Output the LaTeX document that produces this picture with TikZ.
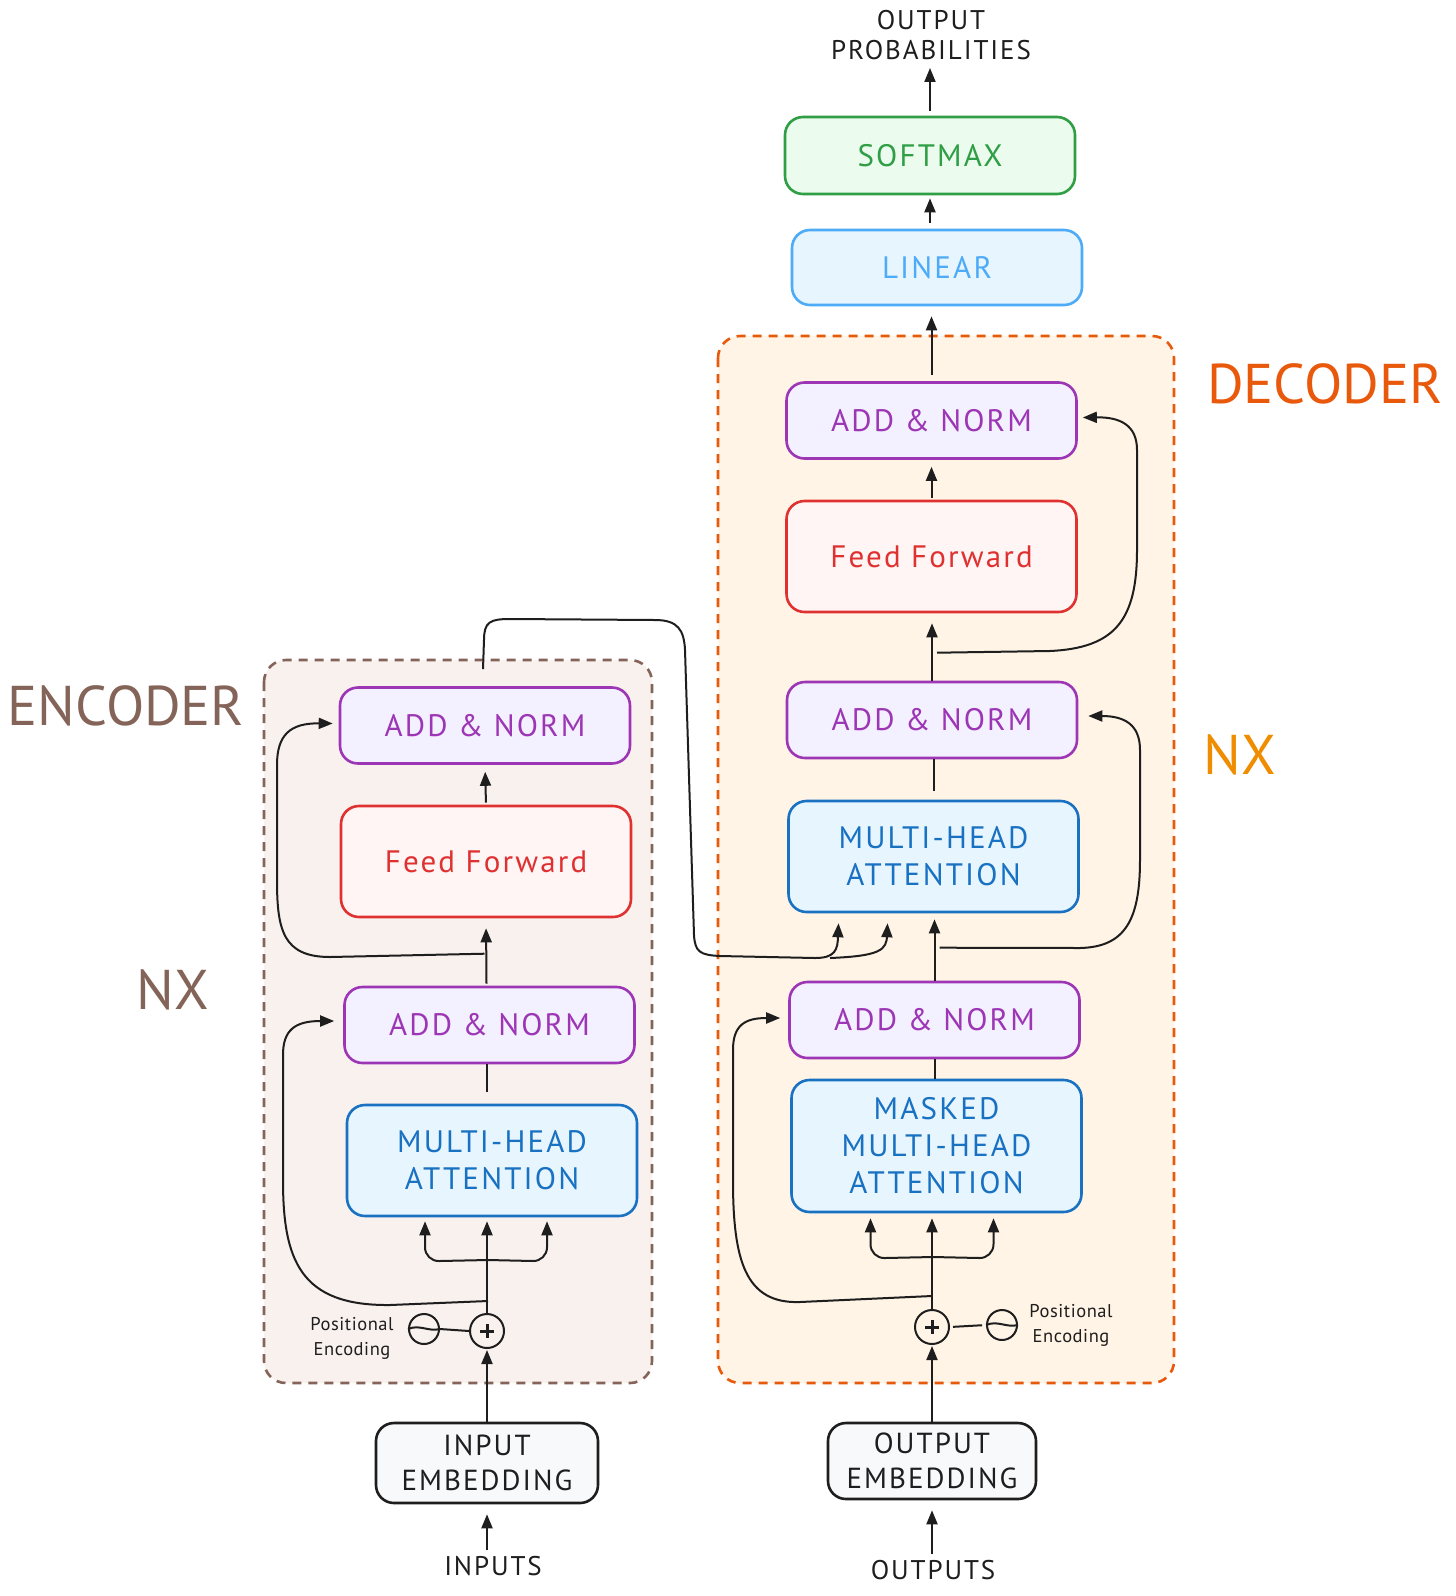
\documentclass[tikz,border=0pt]{standalone}
\usepackage{fontspec}
\setmainfont{PT Sans}[LetterSpace=7]
\newfontfamily\bigfont{PT Sans}
\newfontfamily\smallfont{PT Sans}[LetterSpace=3]
\usetikzlibrary{arrows.meta,calc}
\definecolor{purpS}{HTML}{9C36B5}\definecolor{purpF}{HTML}{F3F0FF}
\definecolor{redS}{HTML}{E03131}\definecolor{redF}{HTML}{FFF5F5}
\definecolor{blueS}{HTML}{1971C2}\definecolor{blueF}{HTML}{E7F5FF}
\definecolor{lblueS}{HTML}{4DABF7}
\definecolor{greenS}{HTML}{2F9E44}\definecolor{greenF}{HTML}{EBFBEE}
\definecolor{inkS}{HTML}{1E1E1E}\definecolor{grayF}{HTML}{F8F9FA}
\definecolor{decS}{HTML}{E8590C}\definecolor{decF}{HTML}{FFF4E6}
\definecolor{encS}{HTML}{846358}\definecolor{encF}{HTML}{F8F1EE}
\definecolor{nxOr}{HTML}{F08C00}
\begin{document}
\begin{tikzpicture}[x=1pt,y=-1pt,
  box/.style={draw, rounded corners=18pt, line width=2.6pt, align=center, inner sep=0pt,
    minimum width=290pt, font=\fontsize{31}{37}\selectfont},
  addnorm/.style={box, draw=purpS, fill=purpF, text=purpS, minimum height=76pt},
  ffbox/.style={box, draw=redS, fill=redF, text=redS, minimum height=111pt},
  attn/.style={box, draw=blueS, fill=blueF, text=blueS, minimum height=111pt},
  linbox/.style={box, draw=lblueS, fill=blueF, text=lblueS, minimum height=75pt},
  softbox/.style={box, draw=greenS, fill=greenF, text=greenS, minimum height=77pt},
  embbox/.style={box, draw=inkS, fill=grayF, text=inkS, font=\fontsize{29}{35}\selectfont, minimum height=78pt},
  container/.style={line width=2.6pt, dash pattern=on 9pt off 7pt, rounded corners=22pt},
  plain/.style={text=inkS, font=\fontsize{27}{30}\selectfont, align=center, inner sep=0pt},
  small/.style={text=inkS, font=\smallfont\fontsize{18.5}{25}\selectfont, align=center, inner sep=0pt},
  big/.style={font=\bigfont\fontsize{56}{60}\selectfont, inner sep=0pt},
  conn/.style={line width=2pt, draw=inkS},
  arr/.style={conn, -{Triangle[length=14pt,width=11pt]}},
  ring/.style={circle, draw=inkS, line width=2pt, inner sep=0pt},
]
\fill[white] (0,0) rectangle (1456,1596);
\useasboundingbox (0,0) rectangle (1456,1596);

% containers
\draw[container, draw=encS, fill=encF] (264,660) rectangle (652,1383);
\draw[container, draw=decS, fill=decF] (718,336) rectangle (1174,1383);

% labels
\node[big, text=encS] (enclbl) at (126,706) {ENCODER};
\node[big, text=encS] (encnx) at (173,990) {NX};
\node[big, text=decS] (declbl) at (1325,384) {DECODER};
\node[big, text=nxOr] (decnx) at (1240,755) {NX};

% top
\node[plain] (probs) at (931,35) {OUTPUT\\PROBABILITIES};
\node[softbox] (softmax) at (930,155.5) {SOFTMAX};
\node[linbox] (linear) at (937,267.5) {LINEAR};

% decoder boxes
\node[addnorm] (dan1) at (931.5,420.5) {ADD \& NORM};
\node[ffbox] (dff) at (931.5,556.5) {Feed Forward};
\node[addnorm] (dan2) at (932,720) {ADD \& NORM};
\node[attn] (dmha) at (933.5,856.5) {MULTI-HEAD\\ATTENTION};
\node[addnorm] (dan3) at (934.5,1020) {ADD \& NORM};
\node[attn, minimum height=132pt] (dmmha) at (936.5,1146) {MASKED\\MULTI-HEAD\\ATTENTION};
\node[embbox, minimum width=208pt, minimum height=76pt] (outemb) at (932,1461) {OUTPUT\\EMBEDDING};
\node[plain] (outputs) at (933,1570) {OUTPUTS};

% encoder boxes
\node[addnorm] (ean1) at (485,725.5) {ADD \& NORM};
\node[ffbox] (eff) at (486,861.5) {Feed Forward};
\node[addnorm] (ean2) at (489.5,1025) {ADD \& NORM};
\node[attn] (emha) at (492,1160.5) {MULTI-HEAD\\ATTENTION};
\node[embbox, minimum width=222pt, minimum height=80pt] (inemb) at (487,1463) {INPUT\\EMBEDDING};
\node[plain] (inputs) at (493,1566) {INPUTS};

% positional encodings
\node[ring, minimum size=34pt] (eplus) at (487,1331) {};
\node[ring, minimum size=30pt] (esin) at (424,1329) {};
\node[small] (epos) at (352,1338) {Positional\\Encoding};
\node[ring, minimum size=34pt] (dplus) at (932,1327) {};
\node[ring, minimum size=30pt] (dsin) at (1002,1325) {};
\node[small] (dpos) at (1071,1325) {Positional\\Encoding};

\foreach \p in {eplus,dplus}{
  \draw[line width=3pt, draw=inkS] ($(\p.center)+(-7,0)$) -- ($(\p.center)+(7,0)$);
  \draw[line width=3pt, draw=inkS] ($(\p.center)+(0,-7)$) -- ($(\p.center)+(0,7)$);
}
\foreach \s in {esin,dsin}{
  \draw[line width=2pt, draw=inkS] (\s.west) .. controls ($(\s.center)+(-4,-5)$) and ($(\s.center)+(4,3)$) .. (\s.east);
}
\draw[conn] (esin.east) -- (eplus.west);
\draw[conn, shorten <=3pt, shorten >=4pt] (dplus.east) -- (dsin.west);

% ---------- encoder connectors ----------
\draw[arr, shorten <=6pt, shorten >=10pt] (inputs.north -| inemb.south) -- (inemb.south);
\draw[arr, shorten >=1pt] (inemb.north) -- (eplus.south);
\draw[arr, shorten >=4pt] (eplus.north) -- (emha.south -| eplus.north);
\coordinate (ejoin) at (488,1260);
\draw[arr, rounded corners=14pt] (ejoin) -- ($(emha.south)+(-67,44)$) -- ($(emha.south)+(-67,4)$);
\draw[arr, rounded corners=14pt] (ejoin) -- ($(emha.south)+(55,44)$) -- ($(emha.south)+(55,4)$);
\draw[arr] ($(eplus.north)+(1,-12)$) -- (390,1305) .. controls (300,1306) and (283,1260) .. (283,1180)
   -- (283,1055) .. controls (283,1030) and (295,1021) .. ($(ean2.west)+(-9,-4)$);
\draw[conn] ($(ean2.south)+(-3,28)$) -- ($(ean2.south)+(-3,0)$);
\draw[arr, shorten >=10pt] ($(ean2.north)+(-3,-2)$) -- (eff.south);
\draw[arr] ($(ean2.north)+(-5,-32)$) -- (330,957) .. controls (283,957) and (277,930) .. (277,880)
   -- (277,765) .. controls (277,735) and (290,723) .. ($(ean1.west)+(-6,-2)$);
\draw[arr, shorten <=2pt, shorten >=7pt] (eff.north) -- (ean1.south);

% encoder -> decoder cross connection
\coordinate (xa) at ($(dmha.south)+(-95,10)$);
\coordinate (xb) at ($(dmha.south)+(-46,10)$);
\draw[arr] ($(ean1.north)+(-2,-17)$) -- (484,640) .. controls (484,622) and (490,619) .. (510,619)
   -- (655,620) .. controls (678,620) and (684,630) .. (685,650)
   -- (694,935) .. controls (695,952) and (700,955) .. (720,956)
   -- (815,958) .. controls (835,958) and (838,950) .. (838,935) -- (xa);
\draw[arr] (830,958) .. controls (880,956) and (887,950) .. (887,935) -- (xb);

% ---------- decoder connectors ----------
\draw[arr, shorten <=6pt, shorten >=10pt] (outputs.north -| outemb.south) -- (outemb.south);
\draw[arr, shorten >=1pt] (outemb.north) -- (dplus.south);
\draw[arr, shorten >=5pt] (dplus.north) -- (dmmha.south -| dplus.north);
\coordinate (djoin) at (933,1257);
\draw[arr, rounded corners=14pt] (djoin) -- ($(dmmha.south)+(-66,45)$) -- ($(dmmha.south)+(-66,5)$);
\draw[arr, rounded corners=14pt] (djoin) -- ($(dmmha.south)+(57,45)$) -- ($(dmmha.south)+(57,5)$);
\draw[arr] ($(dplus.north)+(0,-13)$) -- (800,1302) .. controls (745,1304) and (733,1260) .. (733,1180)
   -- (733,1050) .. controls (733,1025) and (745,1018) .. ($(dan3.west)+(-8,-2)$);
\draw[conn] (dmmha.north -| dan3.south) -- (dan3.south);
\draw[arr, shorten >=6pt] (dan3.north) -- (dmha.south -| dan3.north);
\draw[arr] ($(dan3.north)+(5,-33)$) -- (1080,948) .. controls (1125,947) and (1140,920) .. (1140,860)
   -- (1140,750) .. controls (1140,725) and (1125,716) .. ($(dan2.east)+(10,-4)$);
\draw[conn] ($(dmha.north)+(0,-9)$) -- (dmha.north |- dan2.south);
\draw[arr, shorten >=10pt] (dan2.north) -- (dff.south -| dan2.north);
\draw[arr] ($(dan2.north)+(5,-28)$) -- (1050,651) .. controls (1115,648) and (1137,620) .. (1137,550)
   -- (1137,450) .. controls (1137,425) and (1120,417) .. ($(dan1.east)+(5,-3)$);
\draw[arr, shorten <=2pt, shorten >=7pt] (dff.north) -- (dan1.south -| dff.north);
\draw[arr, shorten <=6pt, shorten >=10pt] (dan1.north) -- (linear.south -| dan1.north);
\draw[arr, shorten <=6pt, shorten >=3pt] (linear.north -| softmax.south) -- (softmax.south);
\draw[arr, shorten <=5pt, shorten >=8pt] (softmax.north) -- (probs.south -| softmax.north);
\end{tikzpicture}
\end{document}
